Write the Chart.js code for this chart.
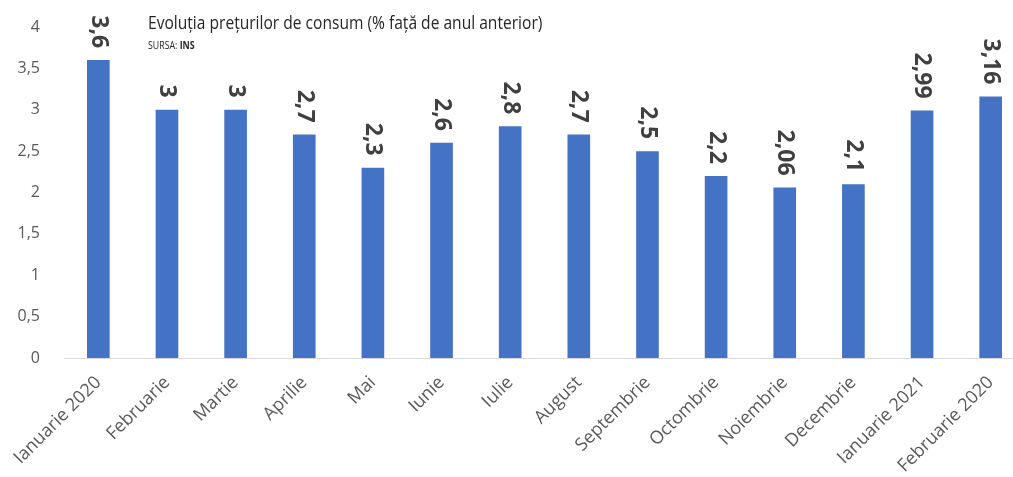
<!DOCTYPE html>
<html><head><meta charset="utf-8">
<script src="https://cdn.jsdelivr.net/npm/chart.js@4/dist/chart.umd.min.js"></script>
<style>
html,body{margin:0;padding:0;background:#fff;overflow:hidden;width:1013px;height:477px;}
#wrap{position:relative;width:1025px;height:477px;}
#title{position:absolute;left:148px;top:9px;font-family:"Open Sans",sans-serif;font-size:19px;color:#262626;white-space:nowrap;transform:scaleX(0.82);transform-origin:0 0;}
#src{position:absolute;left:148px;top:37px;font-family:"Open Sans",sans-serif;font-size:11px;color:#262626;white-space:nowrap;transform:scaleX(0.8);transform-origin:0 0;}
</style></head>
<body>
<div id="wrap">
<canvas id="c" width="1025" height="477"></canvas>
<div id="title">Evoluția prețurilor de consum (% față de anul anterior)</div>
<div id="src">SURSA: <b>INS</b></div>
</div>
<script>
const categories = ["Ianuarie 2020","Februarie","Martie","Aprilie","Mai","Iunie","Iulie","August","Septembrie","Octombrie","Noiembrie","Decembrie","Ianuarie 2021","Februarie 2020"];
const values = [3.6, 3, 3, 2.7, 2.3, 2.6, 2.8, 2.7, 2.5, 2.2, 2.06, 2.1, 2.99, 3.16];
const yTicks = [0, 0.5, 1, 1.5, 2, 2.5, 3, 3.5, 4];

const fmt = v => String(v).replace('.', ',');

const valueLabels = {
  id: 'valueLabels',
  afterDatasetsDraw(chart) {
    const ctx = chart.ctx;
    const meta = chart.getDatasetMeta(0);
    ctx.save();
    ctx.font = 'bold 23px "Open Sans", sans-serif';
    ctx.fillStyle = '#404040';
    meta.data.forEach((bar, i) => {
      ctx.save();
      ctx.translate(bar.x, bar.y - 12);
      ctx.rotate(Math.PI / 2);
      ctx.textAlign = 'right';
      ctx.textBaseline = 'middle';
      ctx.fillText(fmt(values[i]), 0, 0);
      ctx.restore();
    });
    ctx.restore();
  }
};

new Chart(document.getElementById('c'), {
  type: 'bar',
  data: {
    labels: categories,
    datasets: [{
      data: values,
      backgroundColor: '#4472C4',
      categoryPercentage: 1,
      barPercentage: 0.33
    }]
  },
  options: {
    responsive: false,
    animation: false,
    layout: { padding: { top: 27, left: 0, right: 0, bottom: 0 } },
    plugins: { legend: { display: false }, tooltip: { enabled: false }, title: { display: false } },
    scales: {
      x: {
        grid: { display: false },
        border: { color: '#d9d9d9', width: 1 },
        afterFit: s => { s.height = 119; },
        ticks: {
          minRotation: 45, maxRotation: 45,
          color: '#595959',
          font: { family: '"Open Sans", sans-serif', size: 18 },
          padding: 6
        }
      },
      y: {
        min: 0, max: 4,
        afterBuildTicks: s => { s.ticks = yTicks.map(v => ({ value: v })); },
        afterFit: s => { s.width = 64; },
        grid: { display: false },
        border: { display: false },
        ticks: {
          color: '#595959',
          font: { family: '"Open Sans", sans-serif', size: 16 },
          padding: 16,
          callback: v => fmt(v)
        }
      }
    }
  },
  plugins: [valueLabels]
});
</script>
</body></html>
